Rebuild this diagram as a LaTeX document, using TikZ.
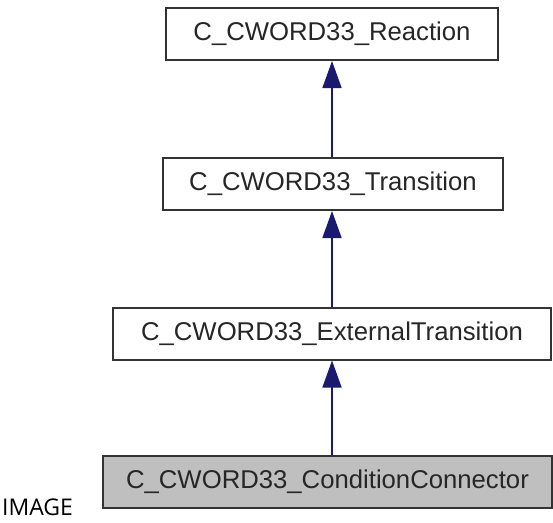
\documentclass[tikz,border=0pt]{standalone}
\usepackage{fontspec}
\setmainfont{Liberation Sans}
\newfontfamily\captionfont{Open Sans}
\usetikzlibrary{arrows.meta}
\definecolor{edgeblue}{HTML}{191970}
\definecolor{boxgrey}{HTML}{BFBFBF}
\tikzset{
  classbox/.style={draw=black!80, line width=2pt, fill=white, inner sep=0pt,
    minimum height=52pt, text=black!85,
    font=\fontsize{25.7pt}{30pt}\selectfont},
  inherit/.style={draw=edgeblue, line width=1.6pt,
    -{Triangle[width=19pt,length=27pt,fill=edgeblue]}},
}
\begin{document}
\begin{tikzpicture}[x=1pt,y=-1pt]
  \useasboundingbox (0,0) rectangle (553,522);
  \node[classbox, minimum width=332pt] (R) at (332,34) {C\_CWORD33\_Reaction};
  \node[classbox, minimum width=340pt] (T) at (333,184) {C\_CWORD33\_Transition};
  \node[classbox, minimum width=438pt] (E) at (332,333.5) {C\_CWORD33\_ExternalTransition};
  \node[classbox, minimum width=449pt, fill=boxgrey] (C) at (327.5,482) {C\_CWORD33\_ConditionConnector};
  \node[anchor=base west, inner sep=0pt, font=\captionfont\fontsize{23pt}{26pt}\selectfont] (cap) at (2,515.5) {IMAGE};
  \draw[inherit] (R.south |- T.north) -- (R.south);
  \draw[inherit] (R.south |- E.north) -- (R.south |- T.south);
  \draw[inherit] (R.south |- C.north) -- (R.south |- E.south);
\end{tikzpicture}
\end{document}
